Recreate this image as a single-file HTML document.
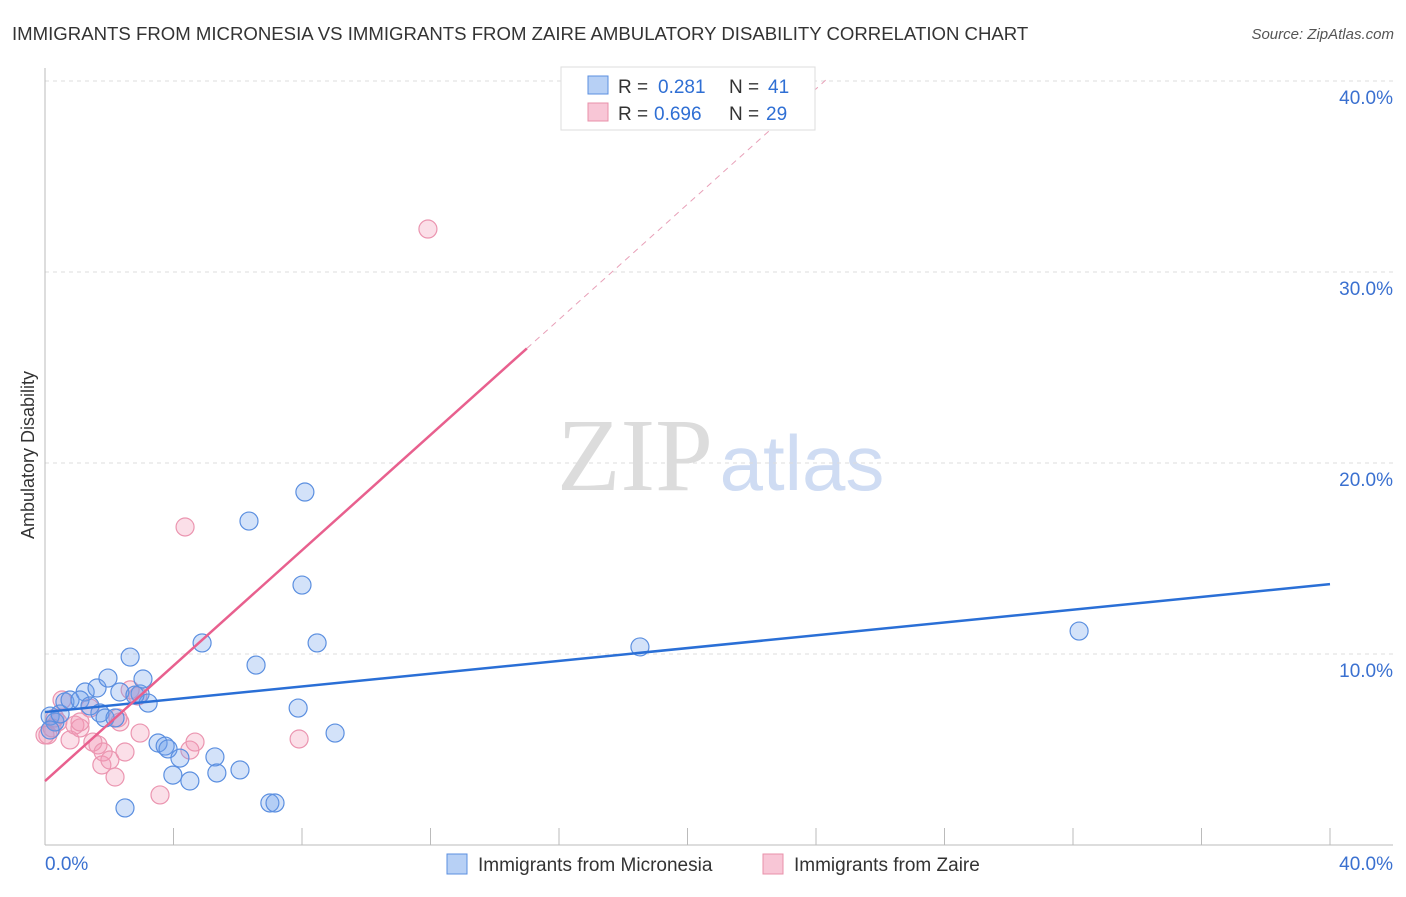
<!DOCTYPE html>
<html><head><meta charset="utf-8"><style>
body{margin:0;background:#fff;font-family:"Liberation Sans",sans-serif}
</style></head><body>
<svg width="1406" height="892" xmlns="http://www.w3.org/2000/svg" font-family="Liberation Sans, sans-serif">
<text x="12" y="40" font-size="18.6" fill="#333">IMMIGRANTS FROM MICRONESIA VS IMMIGRANTS FROM ZAIRE AMBULATORY DISABILITY CORRELATION CHART</text>
<text x="1394" y="39" font-size="15" fill="#555" font-style="italic" text-anchor="end">Source: ZipAtlas.com</text>
<g><text x="635" y="490" font-size="104" font-family="Liberation Serif, serif" fill="#dcdcdc" text-anchor="middle">ZIP</text><text x="802" y="490" font-size="78" fill="#cfdcf3" text-anchor="middle">atlas</text></g>
<g id="grid"></g>
<g id="axes"></g>
<g id="marks"></g>
<text transform="translate(34,455) rotate(-90)" font-size="18" fill="#333" text-anchor="middle">Ambulatory Disability</text>
<g>
<rect x="561" y="67" width="254" height="63" fill="#fff" stroke="#ddd"/>
<rect x="588" y="76" width="20" height="18" fill="#b7d0f5" stroke="#5b8fe0"/>
<text x="618" y="93" font-size="19" fill="#333">R =</text>
<text x="658" y="93" font-size="19" fill="#2f6fd4">0.281</text>
<text x="729" y="93" font-size="19" fill="#333">N =</text>
<text x="768" y="93" font-size="19" fill="#2f6fd4">41</text>
<rect x="588" y="103" width="20" height="18" fill="#f8c6d6" stroke="#e890aa"/>
<text x="618" y="120" font-size="19" fill="#333">R =</text>
<text x="654" y="120" font-size="19" fill="#2f6fd4">0.696</text>
<text x="729" y="120" font-size="19" fill="#333">N =</text>
<text x="766" y="120" font-size="19" fill="#2f6fd4">29</text>
</g>
<g>
<rect x="447" y="854" width="20" height="20" fill="#b7d0f5" stroke="#5b8fe0"/>
<text x="478" y="871" font-size="19" fill="#333">Immigrants from Micronesia</text>
<rect x="763" y="854" width="20" height="20" fill="#f8c6d6" stroke="#e890aa"/>
<text x="794" y="871" font-size="19" fill="#333">Immigrants from Zaire</text>
</g>
</svg>
<script>
const yTicks=[10,20,30,40];
const xTickLabels=["0.0%","40.0%"];
const blueX=[0.16,0.31,0.47,0.62,0.78,1.25,1.62,1.09,1.40,1.71,1.96,2.33,1.87,2.18,2.65,2.96,3.05,3.21,2.80,3.52,3.74,3.83,3.98,4.20,4.51,4.89,5.29,5.35,6.07,6.35,6.57,7.00,7.16,7.88,8.00,8.09,8.47,9.03,2.49,18.52,32.19,0.16];
const blueY=[6.75,6.44,6.86,7.49,7.59,8.01,8.22,7.59,7.28,6.91,8.74,8.01,6.65,6.65,9.84,7.91,8.69,7.43,7.85,5.34,5.18,5.03,3.66,4.55,3.35,10.58,4.61,3.77,3.93,16.96,9.42,2.20,2.20,7.17,13.61,18.48,10.58,5.86,1.94,10.37,11.20,6.02];
const pinkX=[0.09,0.22,0.40,0.53,0.78,0.93,1.09,1.40,1.49,1.65,1.77,1.81,2.02,2.18,2.33,2.49,2.65,2.89,2.96,3.58,4.36,4.51,4.67,7.91,11.92,0.31,0.0,1.09,2.27];
const pinkY=[5.76,6.13,6.44,7.59,5.50,6.28,6.13,7.17,5.39,5.24,4.19,4.87,4.45,3.56,6.44,4.87,8.12,7.80,5.86,2.62,16.65,4.97,5.39,5.55,32.25,6.65,5.76,6.44,6.65];
const blueLine=[6.96,13.66];
const pinkLine=[3.35,1.51];
const NS="http://www.w3.org/2000/svg";
const X=v=>45+v*(1285/40), Y=v=>845-v*19.1;
function mk(p,t,a){const e=document.createElementNS(NS,t);for(const k in a)e.setAttribute(k,a[k]);p.appendChild(e);return e;}
const grid=document.getElementById('grid'),axes=document.getElementById('axes'),marks=document.getElementById('marks');
yTicks.forEach(t=>{
 const l=mk(grid,'line',{x1:45,x2:1393,y1:Y(t),y2:Y(t),stroke:'#ddd','stroke-dasharray':'4,4'});
 
 
 const tx=mk(grid,'text',{x:1393,y:Y(t)+23,'font-size':19,fill:'#3a70d0','text-anchor':'end'});
 tx.textContent=t.toFixed(1)+'%';
 
 
});
let a=mk(axes,'line',{x1:45,x2:1393,y1:845,y2:845,stroke:'#bbb'});


a=mk(axes,'line',{x1:45,x2:45,y1:68,y2:845,stroke:'#bbb'});


for(let i=0;i<=10;i++){const t=mk(axes,'line',{x1:X(i*4),x2:X(i*4),y1:828,y2:845,stroke:'#bbb'});
 
 }
let t0=mk(axes,'text',{x:45,y:870,'font-size':19,fill:'#3a70d0'});t0.textContent=xTickLabels[0];


let t1=mk(axes,'text',{x:1393,y:870,'font-size':19,fill:'#3a70d0','text-anchor':'end'});t1.textContent=xTickLabels[1];


pinkX.forEach((v,i)=>{const c=mk(marks,'circle',{cx:X(v),cy:Y(pinkY[i]),r:9,fill:'rgba(243,150,180,0.3)',stroke:'#eb95b0','stroke-width':1.2});
 
 });
blueX.forEach((v,i)=>{const c=mk(marks,'circle',{cx:X(v),cy:Y(blueY[i]),r:9,fill:'rgba(110,160,235,0.3)',stroke:'#5b8fe0','stroke-width':1.2});
 
 });
let bl=mk(marks,'line',{x1:X(0),y1:Y(blueLine[0]),x2:X(40),y2:Y(blueLine[1]),stroke:'#2a6fd6','stroke-width':2.5});


let pl=mk(marks,'line',{x1:X(0),y1:Y(pinkLine[0]),x2:X(15),y2:Y(pinkLine[0]+pinkLine[1]*15),stroke:'#e8608e','stroke-width':2.5});


let pd=mk(marks,'line',{x1:X(15),y1:Y(pinkLine[0]+pinkLine[1]*15),x2:X(24.3),y2:Y(pinkLine[0]+pinkLine[1]*24.3),stroke:'#e8a0b8','stroke-width':1,'stroke-dasharray':'6,5'});


</script>
</body></html>
